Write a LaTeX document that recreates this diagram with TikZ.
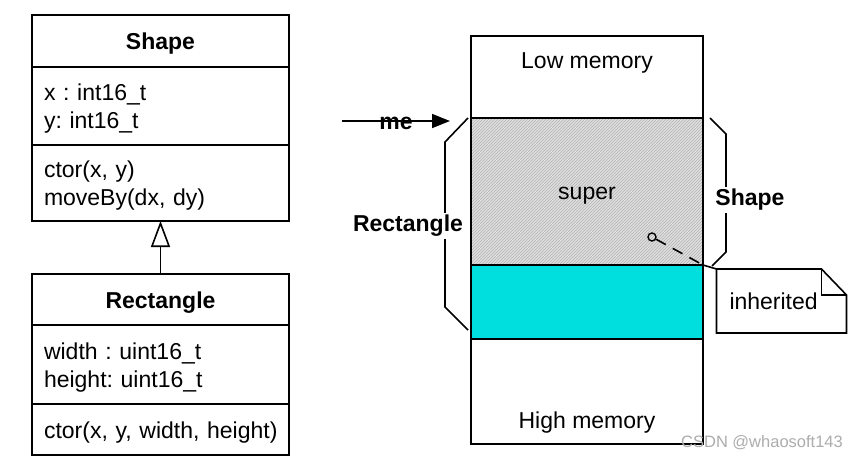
\documentclass[tikz,border=0pt]{standalone}
\usepackage{fontspec}
\setmainfont{Liberation Sans}
\usetikzlibrary{positioning,arrows.meta,patterns}
\definecolor{memcyan}{RGB}{0,222,222}

\begin{document}
\frenchspacing
\begin{tikzpicture}[x=1pt,y=1pt,line width=1.6pt,
  font=\fontsize{23}{28}\selectfont,
  classpart/.style={draw,minimum width=257pt,inner xsep=12pt,inner ysep=0pt,
    outer sep=0pt,text width=233pt,align=left,
    execute at begin node={\rule{0pt}{22pt}}},
  classname/.style={classpart,align=center,font=\fontsize{23}{28}\selectfont\bfseries},
  memcell/.style={draw,minimum width=232pt,inner sep=0pt,outer sep=0pt},
  boldlbl/.style={font=\fontsize{23}{28}\selectfont\bfseries}]
\useasboundingbox (0,0) rectangle (857,-461);

\node[classname,minimum height=52pt] (shapename) at (160.5,-41) {Shape};
\node[classpart,minimum height=78pt,below=0pt of shapename] (shapeattr)
  {x : int16\_t\\y: int16\_t};
\node[classpart,minimum height=76pt,below=0pt of shapeattr] (shapeops)
  {ctor(x, y)\\moveBy(dx, dy)};

\node[classname,minimum height=51pt] (rectname) at (160.5,-299.5) {Rectangle};
\node[classpart,minimum height=79pt,below=0pt of rectname] (rectattr)
  {width : uint16\_t\\height: uint16\_t};
\node[classpart,minimum height=51pt,below=0pt of rectattr] (rectops)
  {\mbox{ctor(x, y, width, height)}};

\draw[-{Triangle[open,length=26pt,width=19pt]}] (rectname.north) -- (shapeops.south);

\node[memcell,minimum height=82pt] (low) at (587,-77) {};
\node[memcell,minimum height=147pt,below=0pt of low,preaction={fill=gray!25},
  pattern=north east lines,pattern color=gray!60] (super) {};
\node[memcell,minimum height=74pt,below=0pt of super,fill=memcyan] (cyanpart) {};
\node[memcell,minimum height=105pt,below=0pt of cyanpart] (high) {};
\node (lowtxt) at (587,-63) {Low memory};
\node (supertxt) at (587,-196) {super};
\node (hightxt) at (587,-423) {High memory};

\coordinate (mestart) at (342,-121);
\coordinate (meend) at (450,-121);
\draw[-{Triangle[length=18pt,width=14pt]}] (mestart) -- node[boldlbl,yshift=-2pt] (me) {me} (meend);

\draw ([xshift=-3pt]super.north west) -- ++(-23,-24) -- ++(0,-165) -- ++(23,-23);
\node[boldlbl,fill=white,inner sep=2pt] (rectlbl) at (408,-226) {Rectangle};

\draw ([xshift=7pt]super.north east) -- ++(16,-16) -- ++(0,-118) -- ++(-14,-14);
\node[boldlbl,fill=white,inner sep=2pt] (shapelbl) at (750,-200) {Shape};

\node[minimum width=130pt,minimum height=64pt,inner xsep=13pt,inner ysep=0pt,
  outer sep=0pt,text width=104pt,align=left] (note) at (781.5,-301) {inherited};
\draw (note.north west) -- ([xshift=-25pt]note.north east)
  -- ([yshift=-26pt]note.north east) -- (note.south east)
  -- (note.south west) -- cycle;
\draw ([xshift=-25pt]note.north east) |- ([yshift=-26pt]note.north east);

\node[circle,draw,line width=1.4pt,inner sep=0pt,minimum size=8pt] (pin) at (652,-237) {};
\draw[dash pattern=on 11pt off 8pt] (pin) -- (super.south east);
\draw (super.south east) -- (note.north west);

\node[text=gray!65,font=\fontsize{16.5}{18}\selectfont] (mark) at (762,-443)
  {CSDN @whaosoft143};
\end{tikzpicture}
\end{document}
